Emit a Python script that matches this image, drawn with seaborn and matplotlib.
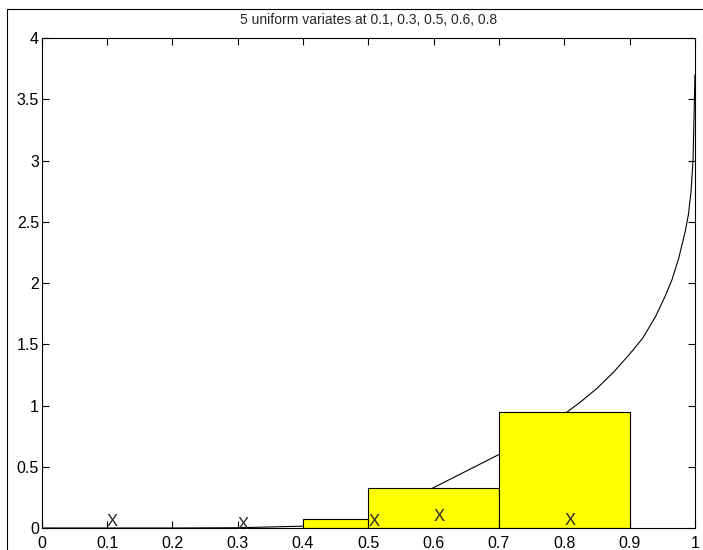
import numpy as np
import matplotlib
matplotlib.use('Agg')
import matplotlib.pyplot as plt
from matplotlib.lines import Line2D
import seaborn as sns

# sample points (marked with X) and the height of each X label
samples = [0.1, 0.3, 0.5, 0.6, 0.8]
mark_y = [0.05, 0.03, 0.05, 0.09, 0.06]

# histogram bins and bar heights
bin_edges = [0.4, 0.5, 0.7, 0.9]
bin_mids = [0.45, 0.6, 0.8]
bar_heights = [0.072, 0.33, 0.945]

# density curve
curve_x = [0, 0.1, 0.2, 0.3, 0.4, 0.5, 0.6, 0.7, 0.8, 0.825, 0.85, 0.875,
           0.9, 0.92, 0.94, 0.955, 0.965, 0.975, 0.985, 0.99, 0.994, 0.997,
           1.0]
curve_y = [0, 0, 0, 0.002, 0.015, 0.068, 0.33, 0.60, 0.93, 1.03, 1.14, 1.27,
           1.42, 1.55, 1.73, 1.9, 2.03, 2.2, 2.42, 2.56, 2.75, 3.0,
           3.7]

xticks = [round(0.1 * i, 1) for i in range(11)]
yticks = [0.5 * i for i in range(9)]

sns.set_style("ticks", {"xtick.direction": "in", "ytick.direction": "in"})
plt.rcParams['font.family'] = ['Liberation Sans', 'DejaVu Sans']

fig = plt.figure(figsize=(7.03, 5.5), dpi=100)
ax = fig.add_axes([0.0593, 0.04, 0.9293, 0.8909])

sns.lineplot(x=curve_x, y=curve_y, color='black', linewidth=0.8, ax=ax,
             sort=False, zorder=1)
sns.histplot(x=bin_mids, weights=bar_heights, bins=bin_edges, color='yellow',
             alpha=1, edgecolor='black', linewidth=0.8, ax=ax, zorder=2)

for sx, sy in zip(samples, mark_y):
    ax.text(sx, sy, 'X', ha='left', va='center', fontsize=12, zorder=3)

ax.set_xlim(0, 1)
ax.set_ylim(0, 4)
ax.set_xticks(xticks)
ax.set_xticklabels([f"{t:g}" for t in xticks])
ax.set_yticks(yticks)
ax.set_yticklabels([f"{t:g}" for t in yticks])
ax.tick_params(axis='both', labelsize=11.5, length=5, width=0.8,
               top=True, right=True, colors='black')
ax.tick_params(axis='x', pad=6)
ax.tick_params(axis='y', pad=2)
ax.set_xlabel('')
ax.set_ylabel('')
for sp in ax.spines.values():
    sp.set_visible(True)
    sp.set_linewidth(0.8)
    sp.set_color('black')

ax.set_title("5 uniform variates at " + ", ".join(f"{s:g}" for s in samples),
             fontsize=10, pad=10)

# outer window frame (cropped at right and bottom)
fig.add_artist(Line2D([7 / 703, 7 / 703], [0, 1 - 9 / 550], color='black',
                      linewidth=0.8, transform=fig.transFigure))
fig.add_artist(Line2D([7 / 703, 1], [1 - 9 / 550, 1 - 9 / 550], color='black',
                      linewidth=0.8, transform=fig.transFigure))

fig.savefig('out.png', dpi=100)
